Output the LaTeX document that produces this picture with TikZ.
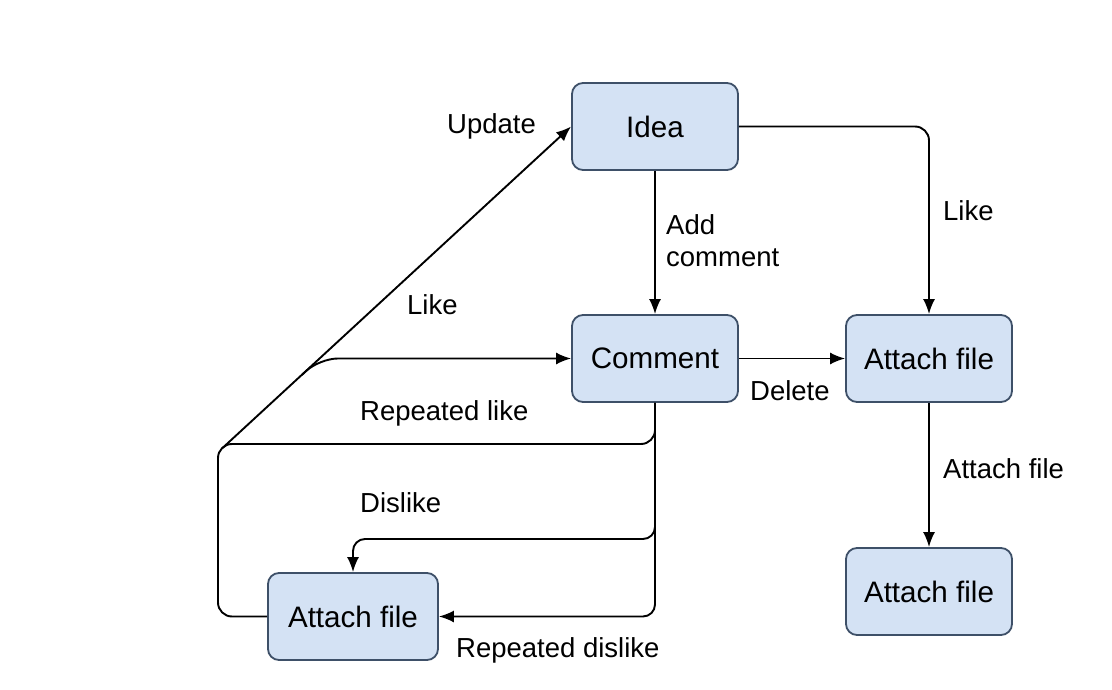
\documentclass[tikz,border=0pt]{standalone}
\usepackage{fontspec}
\setmainfont{Liberation Sans}
\usetikzlibrary{arrows.meta}
\definecolor{boxfill}{HTML}{D4E2F4}
\definecolor{boxline}{HTML}{3E5068}
\begin{document}
\begin{tikzpicture}[x=1pt,y=-1pt,
  box/.style={draw=boxline, fill=boxfill, line width=1.8pt, rounded corners=11pt,
    minimum width=166pt, minimum height=87pt, inner sep=0pt,
    font=\fontsize{29.6}{32}\selectfont},
  lbl/.style={anchor=base west, inner sep=0pt, font=\fontsize{27.5}{32}\selectfont, align=left},
  arr/.style={draw=black, line width=1.9pt, -{Latex[length=15pt,width=12pt]}},
  ln/.style={draw=black, line width=1.9pt}]
\useasboundingbox (0,0) rectangle (1112,690);
\node[box] (idea) at (655,126.5) {Idea};
\node[box] (comment) at (655,358.5) {Comment};
\node[box] (afr) at (929,358.5) {Attach file};
\node[box] (afb) at (929,591.5) {Attach file};
\node[box, minimum width=170pt] (afl) at (353,616.5) {Attach file};

\coordinate (ideacorner) at (929,126.5);
\coordinate (dk) at (353,539);
\coordinate (rl) at (655,444);
\coordinate (lc) at (218,444);
\coordinate (ld) at (218,616.5);
\coordinate (upd) at (222.5,448);
\coordinate (lk0) at (301.8,375);
\coordinate (lk) at (319.8,358.5);

% Idea -> Attach file (Like)
\draw[arr, rounded corners=14pt] (idea.east) -- (ideacorner) -- (afr.north);
% Idea -> Comment
\draw[arr] (idea.south) -- (comment.north);
% Comment -> Attach file (Delete)
\draw[arr] (comment.east) -- (afr.west);
% Attach file -> Attach file
\draw[arr] (afr.south) -- (afb.north);
% Update diagonal
\draw[arr] (upd) -- (idea.west);
% Like -> Comment
\draw[arr, rounded corners=18pt] (lk0) -- (lk) -- (comment.west);
% Repeated like path
\draw[ln, rounded corners=14pt] (afl.west) -- (ld) -- (lc) -- (rl) -- (comment.south);
% Dislike
\draw[arr, rounded corners=12pt] (comment.south) -- (comment.south |- dk) -- (dk) -- (afl.north);
% Repeated dislike
\draw[arr, rounded corners=12pt] (comment.south) |- (afl.east);

\node[lbl] (l1) at (943,220) {Like};
\node[lbl] (l2) at (666,266) {Add\\comment};
\node[lbl] (l3) at (750,400) {Delete};
\node[lbl] (l4) at (943,478) {Attach file};
\node[lbl] (l5) at (447,134) {Update};
\node[lbl] (l6) at (407,314) {Like};
\node[lbl] (l7) at (360,420) {Repeated like};
\node[lbl] (l8) at (360,512) {Dislike};
\node[lbl] (l9) at (456,657) {Repeated dislike};
\end{tikzpicture}
\end{document}
